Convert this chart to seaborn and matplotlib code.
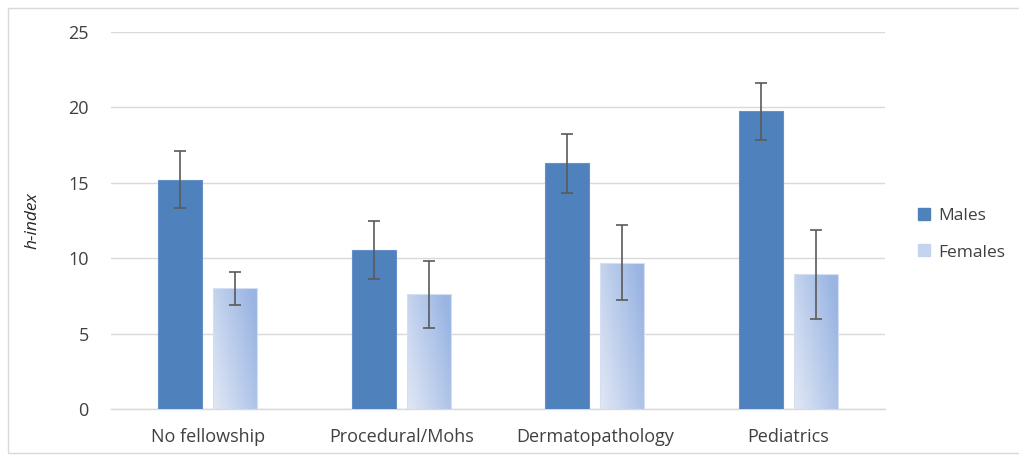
import numpy as np
import pandas as pd
import matplotlib
matplotlib.use("Agg")
import matplotlib.pyplot as plt
import seaborn as sns
from matplotlib.colors import LinearSegmentedColormap
from matplotlib.patches import Rectangle
from matplotlib.lines import Line2D

categories = ["No fellowship", "Procedural/Mohs", "Dermatopathology", "Pediatrics"]
series = ["Males", "Females"]
males = [15.2, 10.55, 16.3, 19.75]
females = [8.0, 7.6, 9.7, 8.95]
males_err = [1.9, 1.9, 1.95, 1.9]
females_err = [1.1, 2.2, 2.5, 2.95]
yticks = [0, 5, 10, 15, 20, 25]

df = pd.DataFrame({
    "category": categories * 2,
    "sex": ["Males"] * 4 + ["Females"] * 4,
    "value": males + females,
})

sns.set_theme(style="white")
plt.rcParams['font.family'] = ['Open Sans', 'DejaVu Sans']

fig = plt.figure(figsize=(10.19, 4.55), dpi=100)
ax = fig.add_axes([111/1019, 1-409/455, (885-111)/1019, (409-32)/455])

male_color = "#4F81BD"
fem_color = "#B9CBEB"
sns.barplot(data=df, x="category", y="value", hue="sex", order=categories,
            hue_order=series, palette=[male_color, fem_color], width=0.568,
            gap=0.2, saturation=1, errorbar=None, ax=ax, legend=False, zorder=3)

ax.set_ylim(0, 25)
ax.set_xlim(-0.5, 3.5)
ax.set_yticks(yticks)
ax.grid(axis="y", color="#D9D9D9", linewidth=1, zorder=0)
ax.set_axisbelow(True)
for s in ["top", "right", "left"]:
    ax.spines[s].set_visible(False)
ax.spines["bottom"].set_color("#D9D9D9")
ax.spines["bottom"].set_linewidth(1)
ax.set_xlabel("")
ax.set_ylabel("h-index", fontstyle="italic", fontsize=12.5, color="#262626", labelpad=20)

# gradient for female bars
cmap = LinearSegmentedColormap.from_list("fem", ["#E1E8F5", "#9AB5E3"])
gx, gy = np.meshgrid(np.linspace(0, 1, 60), np.linspace(0, 1, 200))
grad = np.clip(0.7 * gx + 0.4 * gy, 0, 1)

patches = ax.patches
n = len(categories)
male_patches = patches[:n]
fem_patches = patches[n:2 * n]
for p in fem_patches:
    x0 = p.get_x(); w = p.get_width(); h = p.get_height()
    p.set_facecolor("none")
    p.set_edgecolor("#D5DFF1")
    p.set_linewidth(0.8)
    im = ax.imshow(grad, cmap=cmap, extent=[x0, x0 + w, 0, h], origin="lower",
                   aspect="auto", zorder=2.9, vmin=0, vmax=1)
    im.set_clip_path(p)
for p in male_patches:
    p.set_edgecolor("#6690C8")
    p.set_linewidth(0.8)

for plist, vals, errs in [(male_patches, males, males_err), (fem_patches, females, females_err)]:
    xs = [p.get_x() + p.get_width() / 2 for p in plist]
    ax.errorbar(xs, vals, yerr=errs, fmt="none", ecolor="#5A5A5A", elinewidth=1.2,
                capsize=4, capthick=1.2, zorder=5)
ax.set_aspect("auto")
ax.set_xlim(-0.5, 3.5)
ax.set_ylim(0, 25)

ax.tick_params(axis="both", length=0, labelsize=13, colors="#404040")
ax.xaxis.set_tick_params(pad=14)
ax.yaxis.set_tick_params(pad=16)

handles = [Line2D([0], [0], marker="s", linestyle="none", markersize=8, markerfacecolor=male_color,
                  markeredgecolor=male_color),
           Line2D([0], [0], marker="s", linestyle="none", markersize=8, markerfacecolor="#C5D4EE",
                  markeredgecolor="#C5D4EE")]
fig.legend(handles, series, loc="center left", bbox_to_anchor=(900/1019, 1-234/455), frameon=False,
           fontsize=12.5, labelcolor="#404040", labelspacing=1.2, handletextpad=0.3, handlelength=1.0)

fig.patches.append(Rectangle((8/1019, 2/455), 1.2, 1-10/455, transform=fig.transFigure,
                             fill=False, edgecolor="#D9D9D9", linewidth=1))

fig.savefig("out.png", dpi=100)
